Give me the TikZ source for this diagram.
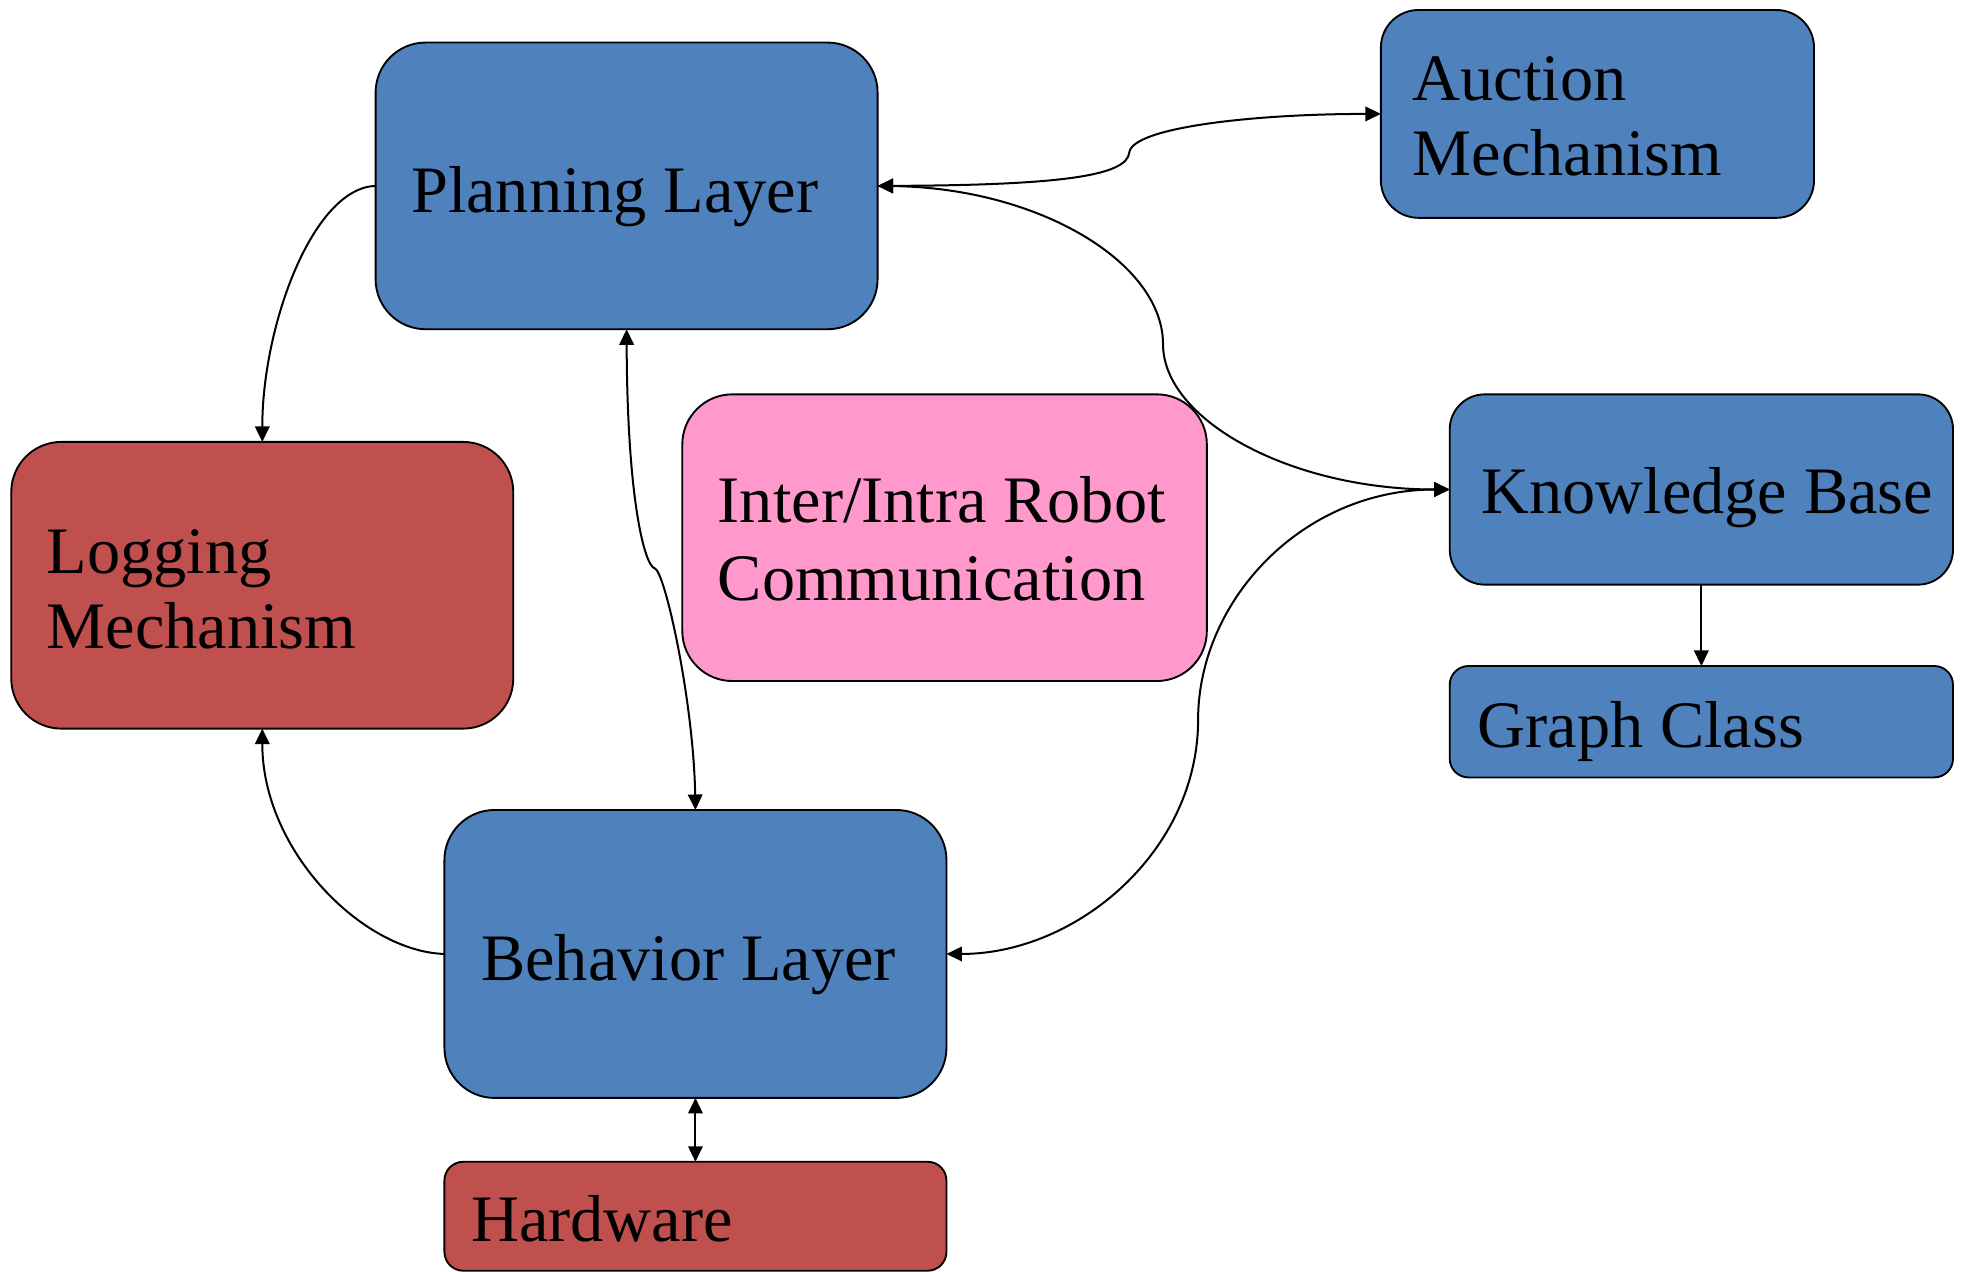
\documentclass[tikz,border=0pt]{standalone}
\usepackage{fontspec}
\setmainfont{Liberation Serif}
\usetikzlibrary{arrows.meta}
\definecolor{layerblue}{HTML}{4F81BD}
\definecolor{logred}{HTML}{C0504D}
\definecolor{commpink}{HTML}{FF99CC}

\begin{document}
\begin{tikzpicture}[x=0.5pt,y=-0.5pt,
  box/.style={draw=black, line width=0.75pt, inner sep=0pt, outer sep=0pt},
  bigbox/.style={box, rounded corners=20pt, minimum width=200.5pt, minimum height=114.5pt},
  lbl/.style={anchor=base west, inner sep=0pt, align=left, text=black,
              font=\fontsize{26.5pt}{30pt}\selectfont},
  Hd/.tip={Triangle[length=6.2pt,width=5.8pt]},
  link/.style={line width=0.8pt}
]
\useasboundingbox (0,0) rectangle (1568,1016);

% boxes
\node[bigbox, fill=layerblue] (plan) at (500.5,148.5) {};
\node[box, fill=layerblue, rounded corners=15pt, minimum width=173pt, minimum height=83pt] (auc) at (1276,91) {};
\node[box, fill=layerblue, rounded corners=14pt, minimum width=201pt, minimum height=76pt] (know) at (1359,391) {};
\node[box, fill=layerblue, rounded corners=7.5pt, minimum width=201pt, minimum height=44.5pt] (graph) at (1359,576.5) {};
\node[box, fill=commpink, rounded corners=20pt, minimum width=209.5pt, minimum height=114.5pt] (comm) at (754.5,429.5) {};
\node[bigbox, fill=logred] (log) at (209.5,467.5) {};
\node[bigbox, fill=layerblue, minimum height=115pt] (beh) at (555.5,762) {};
\node[box, fill=logred, rounded corners=7.5pt, minimum width=200.5pt, minimum height=43.5pt] (hw) at (555.5,971.5) {};

% labels (placed by the baseline of their last line)
\node[lbl] (planT) at ([xshift=14pt,yshift=-10.75pt]plan.west) {Planning Layer};
\node[lbl] (aucT) at ([xshift=12.5pt,yshift=-24.5pt]auc.west) {Auction\\Mechanism};
\node[lbl] (knowT) at ([xshift=12.5pt,yshift=-9.5pt]know.west) {Knowledge Base};
\node[lbl] (graphT) at ([xshift=11pt,yshift=-10.25pt]graph.west) {Graph Class};
\node[lbl, font=\fontsize{26.5pt}{31.5pt}\selectfont] (commT) at ([xshift=14pt,yshift=-25.25pt]comm.west) {Inter/Intra Robot\\Communication};
\node[lbl] (logT) at ([xshift=14pt,yshift=-25.25pt]log.west) {Logging\\Mechanism};
\node[lbl] (behT) at ([xshift=14.5pt,yshift=-10.5pt]beh.west) {Behavior Layer};
\node[lbl] (hwT) at ([xshift=10.5pt,yshift=-10.25pt]hw.west) {Hardware};

% connectors
\draw[link, Hd-Hd] (plan.east) .. controls (850,148) and (900,140) .. (902,122)
  .. controls (904,102) and (1000,91) .. (auc.west);
\draw[link, Hd-Hd] (plan.east) .. controls (830,150) and (929,210) .. (929,275)
  .. controls (929,335) and (1030,391) .. (know.west);
\draw[link, Hd-Hd] (know.west) .. controls (1040,391) and (957,480) .. (957,575)
  .. controls (957,680) and (860,762) .. (beh.east);
\draw[link, Hd-Hd] (plan.south) .. controls (501,400) and (515,452) .. (523,454)
  .. controls (531,456) and (554,560) .. (beh.north);
\draw[link, -Hd] (plan.west) .. controls (250,150) and (209.5,260) .. (log.north);
\draw[link, -Hd] (beh.west) .. controls (290,760) and (209.5,680) .. (log.south);
\draw[link, Hd-Hd] (beh.south) -- (hw.north);
\draw[link, -Hd] (know.south) -- (graph.north);
\end{tikzpicture}
\end{document}
